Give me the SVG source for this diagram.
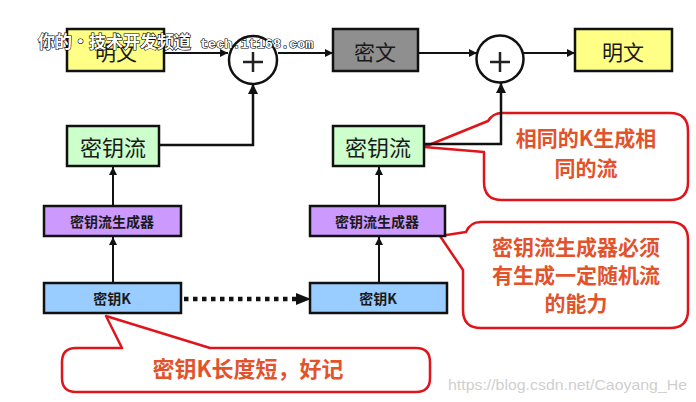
<svg xmlns="http://www.w3.org/2000/svg" width="696" height="402" viewBox="0 0 696 402">
<style>
.box{stroke:#111;stroke-width:2.5}
.lbl{font-family:"Noto Sans CJK SC","Noto Sans CJK JP",sans-serif;fill:#1a1a1a;text-anchor:middle;dominant-baseline:central}
.big{font-size:21px}
.sm{font-size:14px;font-weight:bold}
.conn{fill:none;stroke:#111;stroke-width:2}
.call{fill:#fff;stroke:#e0151b;stroke-width:2.5;stroke-linejoin:round}
.ct{font-family:"Noto Sans CJK SC","Noto Sans CJK JP",sans-serif;fill:#e2532b;font-size:21px;font-weight:bold;text-anchor:middle}
</style>
<defs>
<marker id="ah" viewBox="0 0 10 10" refX="10" refY="5" markerWidth="4" markerHeight="4" orient="auto" markerUnits="strokeWidth">
<path d="M0,0 L10,5 L0,10 z" fill="#111"/>
</marker>
</defs>
<rect width="696" height="402" fill="#fff"/>

<g id="callouts">
<g id="callout-same">
<path class="call" d="M502 113 H670 Q688 113 688 131 V182 Q688 200 670 200 H502 Q484 200 484 182 V152 L424 147 L488 121 Q493 113 502 113 Z"/>
<text class="ct" x="586" y="146">相同的K生成相</text>
<text class="ct" x="586" y="176">同的流</text>
</g>
<g id="callout-gen">
<path class="call" d="M481 222 H670 Q688 222 688 240 V310 Q688 328 670 328 H481 Q463 328 463 310 V270 L440 236 L466 232 Q470 222 481 222 Z"/>
<text class="ct" x="576" y="255">密钥流生成器必须</text>
<text class="ct" x="576" y="283">有生成一定随机流</text>
<text class="ct" x="576" y="311">的能力</text>
</g>
<g id="callout-key">
<path class="call" d="M76 348 H122 L106 316 L210 348 H416 Q430 348 430 362 V378 Q430 392 416 392 H76 Q62 392 62 378 V362 Q62 348 76 348 Z"/>
<text class="ct" x="248" y="377" style="font-size:22px">密钥K长度短，好记</text>
</g>
</g>

<g id="connectors">
<path class="conn" d="M165 53 H228" marker-end="url(#ah)"/>
<path class="conn" d="M278 53 H333" marker-end="url(#ah)"/>
<path class="conn" d="M418 53 H477" marker-end="url(#ah)"/>
<path class="conn" d="M523 53 H575" marker-end="url(#ah)"/>
<path class="conn" d="M159 145 H253 V84" marker-end="url(#ah)" style="stroke-width:2.5"/>
<path class="conn" d="M424 144 H501 V83" marker-end="url(#ah)" style="stroke-width:2.5"/>
<path class="conn" d="M113 205 V167" marker-end="url(#ah)"/>
<path class="conn" d="M113 283 V237" marker-end="url(#ah)"/>
<path class="conn" d="M379 205 V167" marker-end="url(#ah)"/>
<path class="conn" d="M379 283 V237" marker-end="url(#ah)"/>
<path d="M184 299 H296" fill="none" stroke="#111" stroke-width="4.5" stroke-dasharray="4.5 4.5"/>
<path d="M296 293 L311 299 L296 305 Z" fill="#111"/>
</g>

<g id="plain-left">
<rect class="box" x="67" y="29" width="97" height="42" fill="#ffff85"/>
<text class="lbl big" x="116" y="51">明文</text>
</g>
<g id="xor-left">
<circle cx="253" cy="60" r="24" fill="#fff" stroke="#111" stroke-width="2.5"/>
<path d="M243 62 H263 M253 52 V72" stroke="#222" stroke-width="2.5"/>
</g>
<g id="cipher">
<rect class="box" x="333" y="29" width="85" height="42" fill="#8f8f8f"/>
<text class="lbl big" x="375" y="51">密文</text>
</g>
<g id="xor-right">
<circle cx="500" cy="59" r="23.5" fill="#fff" stroke="#111" stroke-width="2.5"/>
<path d="M490 62 H510 M500 52 V72" stroke="#222" stroke-width="2.5"/>
</g>
<g id="plain-right">
<rect class="box" x="575" y="29" width="97" height="42" fill="#ffff85"/>
<text class="lbl big" x="623" y="51">明文</text>
</g>
<g id="keystream-left">
<rect class="box" x="67" y="126" width="92" height="40" fill="#ccffcc"/>
<text class="lbl big" x="113" y="146" style="font-size:22px">密钥流</text>
</g>
<g id="keystream-right">
<rect class="box" x="333" y="126" width="91" height="40" fill="#ccffcc"/>
<text class="lbl big" x="378" y="146" style="font-size:22px">密钥流</text>
</g>
<g id="gen-left">
<rect class="box" x="44" y="206" width="137" height="30" fill="#cc99ff"/>
<text class="lbl sm" x="112" y="221">密钥流生成器</text>
</g>
<g id="gen-right">
<rect class="box" x="310" y="206" width="135" height="30" fill="#cc99ff"/>
<text class="lbl sm" x="377" y="221">密钥流生成器</text>
</g>
<g id="key-left">
<rect class="box" x="44" y="283" width="137" height="30" fill="#99ccff"/>
<text class="lbl sm" x="112" y="298">密钥K</text>
</g>
<g id="key-right">
<rect class="box" x="310" y="283" width="137" height="30" fill="#99ccff"/>
<text class="lbl sm" x="378" y="298">密钥K</text>
</g>

<g id="watermarks">
<text x="38" y="48" font-family="Noto Sans CJK SC, sans-serif" font-size="17" font-weight="bold" fill="#fff" stroke="#000" stroke-width="1.2" paint-order="stroke">你的·技术开发频道</text>
<text x="200" y="48" font-family="Liberation Mono, monospace" font-size="13.5" font-weight="bold" fill="#fff" stroke="#000" stroke-width="1.2" paint-order="stroke">tech.it168.com</text>
<text x="448" y="390" font-family="Liberation Sans, Arial, sans-serif" font-size="15" fill="#cfcfcf" textLength="239" lengthAdjust="spacingAndGlyphs">https://blog.csdn.net/Caoyang_He</text>
</g>
</svg>
